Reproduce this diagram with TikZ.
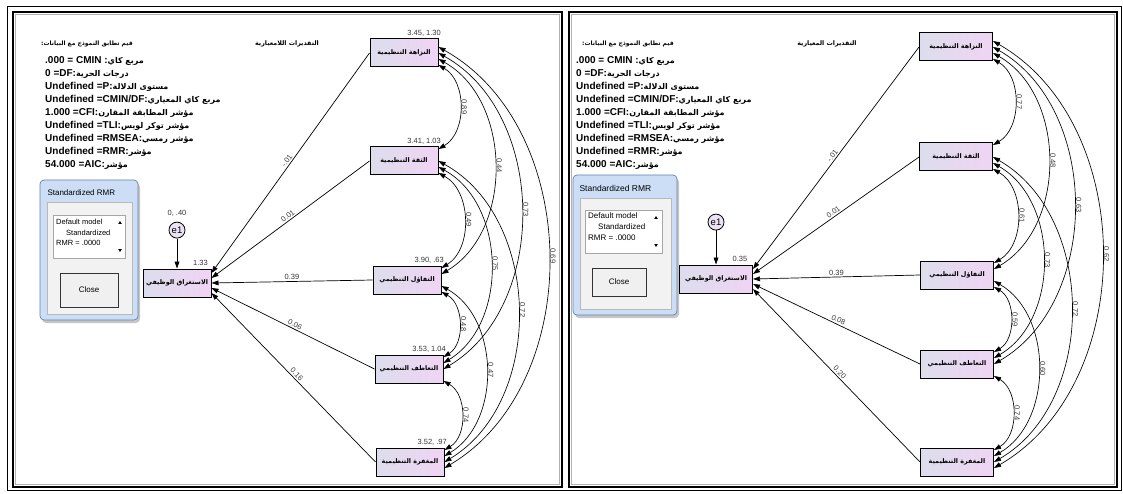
\documentclass[tikz,border=0pt]{standalone}
\usepackage{fontspec}
\setmainfont{Liberation Sans}
\newfontfamily\arabicfont[Script=Arabic]{DejaVu Sans}
\TeXXeTstate=1
\usepackage{tikz}
\usetikzlibrary{arrows.meta,positioning,shadows}

\definecolor{boxleft}{RGB}{220,221,236}
\definecolor{boxright}{RGB}{240,212,244}
\definecolor{errfill}{RGB}{236,226,246}
\definecolor{numgray}{RGB}{55,55,55}
\definecolor{dlgfill}{RGB}{204,222,246}
\definecolor{dlgedge}{RGB}{100,130,170}
\definecolor{clientfill}{RGB}{242,242,242}

\newcommand{\artxt}[1]{{\arabicfont\beginR #1\endR}}
\newcommand{\fitar}[1]{{\arabicfont\fontsize{8}{13}\selectfont\beginR #1\endR}}
\newcommand{\fitlines}{%
.000 = CMIN :\fitar{مربع كاي}\\
0 =DF:\fitar{درجات الحرية}\\
Undefined =P:\fitar{مستوى الدلالة}\\
Undefined =CMIN/DF:\fitar{مربع كاي المعياري}\\
1.000 =CFI:\fitar{مؤشر المطابقة المقارن}\\
Undefined =TLI:\fitar{مؤشر توكر لويس}\\
Undefined =RMSEA:\fitar{مؤشر رمسي}\\
Undefined =RMR:\fitar{مؤشر}\\
54.000 =AIC:\fitar{مؤشر}}

\begin{document}
\begin{tikzpicture}[x=1pt, y=1pt,
  >={Triangle[length=7pt,width=4.8pt]},
  var/.style={draw, line width=1pt, left color=boxleft, right color=boxright,
    minimum height=28pt, inner sep=1pt, font=\bfseries\fontsize{6.4}{8}\selectfont},
  err/.style={draw, circle, line width=0.8pt, fill=errfill, minimum size=16pt,
    inner sep=0pt, font=\fontsize{9.5}{10}\selectfont},
  num/.style={font=\fontsize{7.5}{9}\selectfont, text=numgray, inner sep=1.5pt},
  cnum/.style={num, midway, rotate=-90, anchor=south},
  reg/.style={->, line width=0.7pt},
  cov/.style={<->, line width=0.65pt, bend left=60},
  hdr/.style={font=\bfseries\fontsize{6.3}{8}\selectfont},
  fithdr/.style={font=\bfseries\fontsize{6}{8}\selectfont},
  fitbox/.style={anchor=north west, align=left, inner sep=0pt,
    font=\bfseries\fontsize{10}{13}\selectfont},
  dlg/.style={draw=dlgedge, fill=dlgfill, rounded corners=4pt, line width=0.7pt,
    drop shadow={shadow xshift=2pt, shadow yshift=-3pt, opacity=0.45}},
  client/.style={draw=gray!55, fill=clientfill},
  lstframe/.style={draw=gray!70, fill=white},
  lst/.style={align=left, anchor=north west, inner sep=0pt,
    font=\fontsize{7.5}{10.5}\selectfont},
  btn/.style={draw=black!80, line width=0.8pt, fill=gray!12,
    font=\fontsize{8}{10}\selectfont}
]
\useasboundingbox (0,0) rectangle (1123,-494);
\draw[line width=0.9pt] (7,-6) rectangle (1121,-490);
\draw[line width=1.6pt] (13,-12) rectangle (562,-487);
\draw[gray!60, line width=1pt] (15.5,-14.5) rectangle (559.5,-484.5);
\draw[line width=1.6pt] (569,-12) rectangle (1117,-487);
\draw[gray!60, line width=1pt] (571.5,-14.5) rectangle (1114.5,-484.5);

% left panel: unstandardized
\node[fithdr] (fitHdrL) at (87,-44) {\artxt{قيم تطابق النموذج مع البيانات:}};
\node[fitbox] (fitL) at (45,-56) {\fitlines};
\node[hdr] (estHdrL) at (287,-44) {\artxt{التقديرات اللامعيارية}};

\draw[dlg] (40,-180) rectangle (138,-320);
\draw[client] (47,-202) rectangle (132,-314);
\node[anchor=west, font=\fontsize{8}{10}\selectfont] (dlgTitleL) at (44,-193) {Standardized RMR};
\draw[lstframe] (53,-215) rectangle (125,-258);
\node[lst] (lstL) at (56,-219) {Default model\\\hspace*{10pt}Standardized\\RMR = .0000};
\fill (120,-221) -- ++(-1.8,-3) -- ++(3.6,0) -- cycle;
\fill (120,-252) -- ++(-1.8,3) -- ++(3.6,0) -- cycle;
\node[btn, minimum width=58pt, minimum height=34pt] (closeL) at (89,-290) {Close};

\node[var, minimum width=68pt] (integL) at (404,-53) {\artxt{النزاهة التنظيمية}};
\node[var, minimum width=68pt] (trustL) at (404,-161) {\artxt{الثقة التنظيمية}};
\node[var, minimum width=68pt] (optimL) at (407,-280) {\artxt{التفاؤل التنظيمي}};
\node[var, minimum width=68pt] (empatL) at (409,-369) {\artxt{التعاطف التنظيمي}};
\node[var, minimum width=68pt] (forgvL) at (410,-462) {\artxt{المغفرة التنظيمية}};
\node[var, minimum width=68pt] (engL) at (177,-283) {\artxt{الاستغراق الوظيفي}};
\node[err, above=30pt of engL] (e1L) {e1};

\node[num, anchor=south east] (mIntegL) at ([xshift=4pt]integL.north east) {3.45, 1.30};
\node[num, anchor=south east] (mTrustL) at ([xshift=4pt]trustL.north east) {3.41, 1.03};
\node[num, anchor=south east] (mOptimL) at ([xshift=4pt]optimL.north east) {3.90, .63};
\node[num, anchor=south east] (mEmpatL) at ([xshift=4pt]empatL.north east) {3.53, 1.04};
\node[num, anchor=south east] (mForgvL) at ([xshift=4pt]forgvL.north east) {3.52, .97};
\node[num, above=4pt of e1L] (vE1L) {0, .40};
\node[num, anchor=south east] (rEngL) at ([xshift=-2pt,yshift=1pt]engL.north east) {1.33};

\draw[reg] (e1L) -- (engL);
\draw[reg] (integL.west) -- node[num, sloped, above] {-.01} ([yshift=10pt]engL.east);
\draw[reg] (trustL.west) -- node[num, sloped, above] {0.01} ([yshift=5pt]engL.east);
\draw[reg] (optimL.west) -- node[num, above] {0.39} (engL.east);
\draw[reg] (empatL.west) -- node[num, sloped, above] {0.06} ([yshift=-5pt]engL.east);
\draw[reg] (forgvL.west) -- node[num, sloped, above] {0.16} ([yshift=-10pt]engL.east);

\draw[cov] ([yshift=-12pt]integL.east) to node[cnum] {0.89} ([yshift=12pt]trustL.east);
\draw[cov] ([yshift=-6pt]integL.east) to node[cnum] {0.44} ([yshift=6pt]optimL.east);
\draw[cov] (integL.east) to node[cnum] {0.73} (empatL.east);
\draw[cov] ([yshift=6pt]integL.east) to node[cnum] {0.69} ([yshift=-6pt]forgvL.east);
\draw[cov] ([yshift=-12pt]trustL.east) to node[cnum] {0.49} ([yshift=12pt]optimL.east);
\draw[cov] ([yshift=-6pt]trustL.east) to node[cnum] {0.75} ([yshift=6pt]empatL.east);
\draw[cov] (trustL.east) to node[cnum] {0.72} (forgvL.east);
\draw[cov] ([yshift=-12pt]optimL.east) to node[cnum] {0.48} ([yshift=12pt]empatL.east);
\draw[cov] ([yshift=-6pt]optimL.east) to node[cnum] {0.47} ([yshift=6pt]forgvL.east);
\draw[cov] ([yshift=-12pt]empatL.east) to node[cnum] {0.74} ([yshift=12pt]forgvL.east);

% right panel: standardized
\node[fithdr] (fitHdrR) at (628,-44) {\artxt{قيم تطابق النموذج مع البيانات:}};
\node[fitbox] (fitR) at (576,-56) {\fitlines};
\node[hdr] (estHdrR) at (827,-44) {\artxt{التقديرات المعيارية}};

\draw[dlg] (573,-175) rectangle (677,-315);
\draw[client] (580,-198) rectangle (671,-309);
\node[anchor=west, font=\fontsize{8.5}{10}\selectfont] (dlgTitleR) at (576,-188) {Standardized RMR};
\draw[lstframe] (585,-210) rectangle (662,-253);
\node[lst, font=\fontsize{8}{11}\selectfont] (lstR) at (588,-213) {Default model\\\hspace*{10pt}Standardized\\RMR = .0000};
\fill (656,-216) -- ++(-1.8,-3) -- ++(3.6,0) -- cycle;
\fill (656,-247) -- ++(-1.8,3) -- ++(3.6,0) -- cycle;
\node[btn, minimum width=54pt, minimum height=28pt] (closeR) at (619,-282) {Close};

\node[var, minimum width=73pt] (integR) at (956,-47) {\artxt{النزاهة التنظيمية}};
\node[var, minimum width=73pt] (trustR) at (956,-157) {\artxt{الثقة التنظيمية}};
\node[var, minimum width=73pt] (optimR) at (957,-275) {\artxt{التفاؤل التنظيمي}};
\node[var, minimum width=73pt] (empatR) at (957,-364) {\artxt{التعاطف التنظيمي}};
\node[var, minimum width=73pt] (forgvR) at (957,-462) {\artxt{المغفرة التنظيمية}};
\node[var, minimum width=73pt] (engR) at (716,-279) {\artxt{الاستغراق الوظيفي}};
\node[err, above=34pt of engR] (e1R) {e1};
\node[num, anchor=south east] (rEngR) at ([xshift=-4pt,yshift=1pt]engR.north east) {0.35};

\draw[reg] (e1R) -- (engR);
\draw[reg] (integR.west) -- node[num, sloped, above] {-.01} ([yshift=10pt]engR.east);
\draw[reg] (trustR.west) -- node[num, sloped, above] {0.01} ([yshift=5pt]engR.east);
\draw[reg] (optimR.west) -- node[num, above] {0.39} (engR.east);
\draw[reg] (empatR.west) -- node[num, sloped, above] {0.08} ([yshift=-5pt]engR.east);
\draw[reg] (forgvR.west) -- node[num, sloped, above] {0.20} ([yshift=-10pt]engR.east);

\draw[cov] ([yshift=-12pt]integR.east) to node[cnum] {0.77} ([yshift=12pt]trustR.east);
\draw[cov] ([yshift=-6pt]integR.east) to node[cnum] {0.48} ([yshift=6pt]optimR.east);
\draw[cov] (integR.east) to node[cnum] {0.63} (empatR.east);
\draw[cov] ([yshift=6pt]integR.east) to node[cnum] {0.62} ([yshift=-6pt]forgvR.east);
\draw[cov] ([yshift=-12pt]trustR.east) to node[cnum] {0.61} ([yshift=12pt]optimR.east);
\draw[cov] ([yshift=-6pt]trustR.east) to node[cnum] {0.73} ([yshift=6pt]empatR.east);
\draw[cov] (trustR.east) to node[cnum] {0.72} (forgvR.east);
\draw[cov] ([yshift=-12pt]optimR.east) to node[cnum] {0.59} ([yshift=12pt]empatR.east);
\draw[cov] ([yshift=-6pt]optimR.east) to node[cnum] {0.60} ([yshift=6pt]forgvR.east);
\draw[cov] ([yshift=-12pt]empatR.east) to node[cnum] {0.74} ([yshift=12pt]forgvR.east);
\end{tikzpicture}
\end{document}
